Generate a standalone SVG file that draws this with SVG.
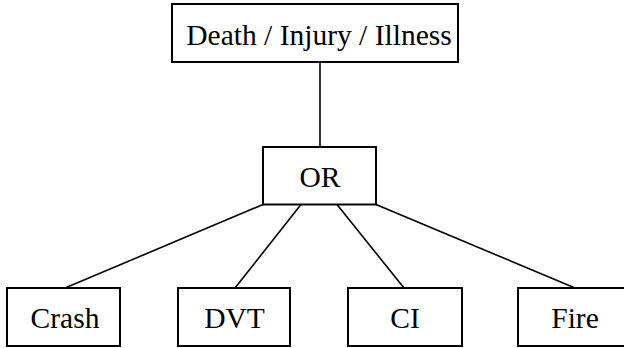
<svg xmlns="http://www.w3.org/2000/svg" width="624" height="348" viewBox="0 0 624 348">
<style>
.box{fill:#fff;stroke:#000;stroke-width:2}
.lbl{font-family:"Liberation Serif","Times New Roman",serif;font-size:29.5px;fill:#000;text-anchor:middle}
.ln{stroke:#000;stroke-width:1.6;fill:none}
</style>
<rect width="624" height="348" fill="#fff"/>
<g id="connectors">
<line class="ln" x1="320" y1="62" x2="320" y2="147"/>
<line class="ln" x1="263" y1="204.5" x2="65" y2="288"/>
<line class="ln" x1="301" y1="204.5" x2="235" y2="288"/>
<line class="ln" x1="337" y1="204.5" x2="404" y2="288"/>
<line class="ln" x1="376" y1="204.5" x2="575" y2="288"/>
</g>
<g id="top">
<rect class="box" x="172" y="4" width="286" height="58"/>
<text class="lbl" x="319" y="45">Death / Injury / Illness</text>
</g>
<g id="or">
<rect class="box" x="263" y="147" width="113" height="57.5"/>
<text class="lbl" x="320" y="187">OR</text>
</g>
<g id="crash">
<rect class="box" x="7" y="288" width="113" height="58"/>
<text class="lbl" x="65" y="328">Crash</text>
</g>
<g id="dvt">
<rect class="box" x="178" y="288" width="112" height="58"/>
<text class="lbl" x="234.5" y="328">DVT</text>
</g>
<g id="ci">
<rect class="box" x="348" y="288" width="114" height="58"/>
<text class="lbl" x="405" y="328">CI</text>
</g>
<g id="fire">
<rect class="box" x="518" y="288" width="114" height="58"/>
<text class="lbl" x="575" y="328">Fire</text>
</g>
</svg>
